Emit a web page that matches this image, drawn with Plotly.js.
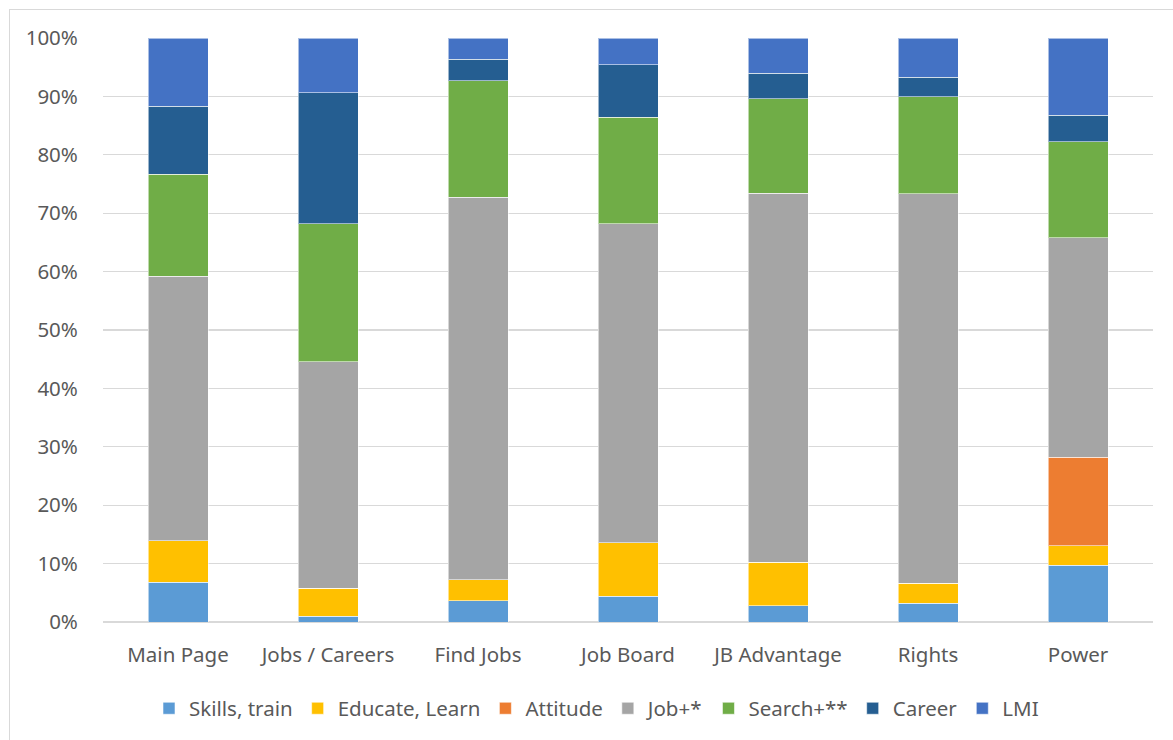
<!DOCTYPE html>
<html>
<head>
<meta charset="utf-8">
<script src="https://cdn.plot.ly/plotly-3.0.1.min.js"></script>
<style>
  html, body { margin: 0; padding: 0; background: #fff; overflow: hidden; }
  #frame { position: absolute; left: 9px; top: 9px; width: 1300px; height: 900px; border: 1px solid #d9d9d9; box-sizing: border-box; }
  #chart { position: absolute; left: 0; top: 0; width: 1173px; height: 740px; }
</style>
</head>
<body>
<div id="frame"></div>
<div id="chart"></div>
<script>
const categories = ["Main Page", "Jobs / Careers", "Find Jobs", "Job Board", "JB Advantage", "Rights", "Power"];
const skillsTrain = [6.8, 1.0, 3.6, 4.4, 2.8, 3.2, 9.7];
const educateLearn = [7.1, 4.8, 3.6, 9.2, 7.4, 3.4, 3.4];
const attitude = [0, 0, 0, 0, 0, 0, 15.1];
const jobPlus = [45.3, 38.8, 65.5, 54.6, 63.2, 66.7, 37.6];
const searchPlus = [17.5, 23.6, 20.0, 18.2, 16.2, 16.6, 16.4];
const career = [11.6, 22.4, 3.7, 9.0, 4.4, 3.4, 4.6];
const lmi = [11.7, 9.4, 3.6, 4.6, 6.0, 6.7, 13.2];
const seriesNames = ["Skills, train", "Educate, Learn", "Attitude", "Job+*", "Search+**", "Career", "LMI"];
const seriesValues = [skillsTrain, educateLearn, attitude, jobPlus, searchPlus, career, lmi];
const seriesColors = ["#5B9BD5", "#FFC000", "#ED7D31", "#A5A5A5", "#70AD47", "#255E91", "#4472C4"];

const traces = seriesNames.map((name, i) => ({
  type: "bar",
  name: name,
  x: categories,
  y: seriesValues[i],
  marker: { color: seriesColors[i], line: { color: "rgba(255,255,255,0.55)", width: 1 } },
  hoverinfo: "x+y+name"
}));

const fam = "Noto Sans, sans-serif";

const layout = {
  width: 1173,
  height: 740,
  barmode: "stack",
  barnorm: "percent",
  bargap: 0.6,
  paper_bgcolor: "rgba(0,0,0,0)",
  plot_bgcolor: "rgba(0,0,0,0)",
  margin: { l: 103, r: 20, t: 38, b: 114 },
  font: { family: fam, size: 20, color: "#595959" },
  xaxis: {
    showgrid: false,
    zeroline: false,
    showline: false,
    ticks: "outside",
    ticklen: 14,
    tickcolor: "rgba(0,0,0,0)",
    tickfont: { family: fam, size: 20.5, color: "#595959" }
  },
  yaxis: {
    range: [0, 100],
    dtick: 10,
    ticksuffix: "%",
    showgrid: true,
    gridcolor: "#d9d9d9",
    gridwidth: 1.3,
    zeroline: true,
    zerolinecolor: "#d9d9d9",
    zerolinewidth: 1.3,
    showline: false,
    ticks: "outside",
    ticklen: 20,
    tickcolor: "rgba(0,0,0,0)",
    tickfont: { family: fam, size: 20.5, color: "#595959" }
  },
  showlegend: true,
  legend: {
    orientation: "h",
    x: 0.47,
    xanchor: "center",
    y: -0.148,
    yanchor: "middle",
    traceorder: "normal",
    font: { family: fam, size: 20.5, color: "#595959" },
    itemwidth: 30
  }
};

Plotly.newPlot("chart", traces, layout, { displayModeBar: false, staticPlot: true });
</script>
</body>
</html>
